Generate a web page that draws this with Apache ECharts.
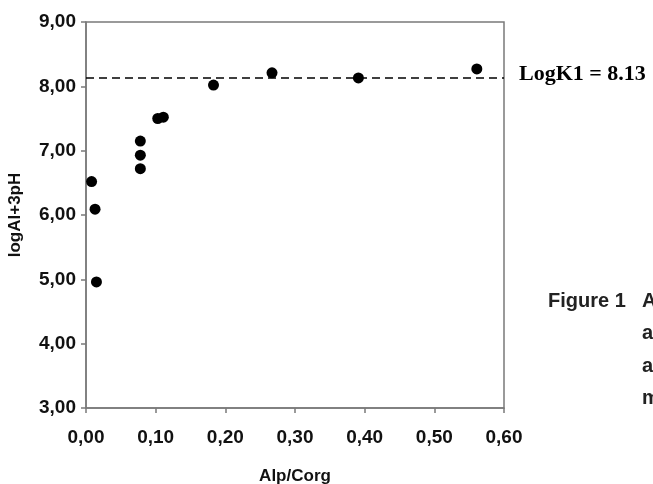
<!DOCTYPE html>
<html>
<head>
<meta charset="utf-8">
<script src="https://cdn.jsdelivr.net/npm/echarts@6/dist/echarts.min.js"></script>
<style>
  html, body { margin: 0; padding: 0; background: #fff; }
  #main { width: 653px; height: 484px; }
</style>
</head>
<body>
<div id="main"></div>
<script>
// 数据：Alp/Corg 与 logAl+3pH
const alpCorg = [0.008, 0.013, 0.015, 0.078, 0.078, 0.078, 0.103, 0.111, 0.183, 0.267, 0.391, 0.561];
const logAl3pH = [6.52, 6.09, 4.96, 7.15, 6.93, 6.72, 7.50, 7.52, 8.02, 8.21, 8.13, 8.27];
const logK1 = 8.13;
const xTickLabels = ['0,00', '0,10', '0,20', '0,30', '0,40', '0,50', '0,60'];
const yTickLabels = ['3,00', '4,00', '5,00', '6,00', '7,00', '8,00', '9,00'];

const myChart = echarts.init(document.getElementById('main'));
const axisColor = '#7a7a7a';
const sans = 'Liberation Sans, Arial, sans-serif';
const labelFont = { color: '#111', fontFamily: sans, fontWeight: 'bold', fontSize: 19 };
const figFont = 'bold 20px "Liberation Sans Narrow", "Arial Narrow", "Liberation Sans", sans-serif';

const option = {
  backgroundColor: '#fff',
  animation: false,
  grid: {
    left: 86, top: 22, right: 149, bottom: 76,
    outerBoundsMode: 'none',
    show: true, borderColor: axisColor, borderWidth: 1.5
  },
  xAxis: {
    type: 'value', min: 0, max: 0.6, interval: 0.1,
    name: 'Alp/Corg', nameLocation: 'middle', nameGap: 60,
    nameTextStyle: { color: '#111', fontFamily: sans, fontWeight: 'bold', fontSize: 17 },
    axisLine: { lineStyle: { color: axisColor, width: 1.5 } },
    axisTick: { inside: false, length: 5, lineStyle: { color: axisColor, width: 1.5 } },
    axisLabel: Object.assign({ margin: 20, formatter: v => xTickLabels[Math.round(v / 0.1)] }, labelFont),
    splitLine: { show: false }
  },
  yAxis: {
    type: 'value', min: 3, max: 9, interval: 1,
    name: 'logAl+3pH', nameLocation: 'middle', nameGap: 62,
    nameTextStyle: { color: '#111', fontFamily: sans, fontWeight: 'bold', fontSize: 17 },
    axisLine: { lineStyle: { color: axisColor, width: 1.5 } },
    axisTick: { inside: false, length: 5, lineStyle: { color: axisColor, width: 1.5 } },
    axisLabel: Object.assign({ margin: 10, formatter: v => yTickLabels[Math.round(v - 3)] }, labelFont),
    splitLine: { show: false }
  },
  series: [{
    type: 'scatter',
    symbolSize: 11,
    itemStyle: { color: '#000', opacity: 1 },
    data: alpCorg.map((x, i) => [x, logAl3pH[i]]),
    markLine: {
      silent: true,
      symbol: 'none',
      lineStyle: { color: '#000', type: [8, 5], width: 1.5 },
      label: {
        position: 'end', distance: 15, offset: [0, -4],
        formatter: 'LogK1 = ' + logK1.toFixed(2),
        color: '#000', fontFamily: 'Liberation Serif, Times New Roman, serif', fontWeight: 'bold', fontSize: 22
      },
      data: [{ yAxis: logK1 }]
    }
  }],
  graphic: [
    { type: 'text', left: 548, top: 291, style: { text: 'Figure 1', fill: '#222', font: figFont } },
    { type: 'text', left: 642, top: 291, style: { text: 'A', fill: '#222', font: figFont } },
    { type: 'text', left: 642, top: 323, style: { text: 'a', fill: '#222', font: figFont } },
    { type: 'text', left: 642, top: 356, style: { text: 'a', fill: '#222', font: figFont } },
    { type: 'text', left: 642, top: 388, style: { text: 'm', fill: '#222', font: figFont } }
  ]
};
option && myChart.setOption(option);
</script>
</body>
</html>
